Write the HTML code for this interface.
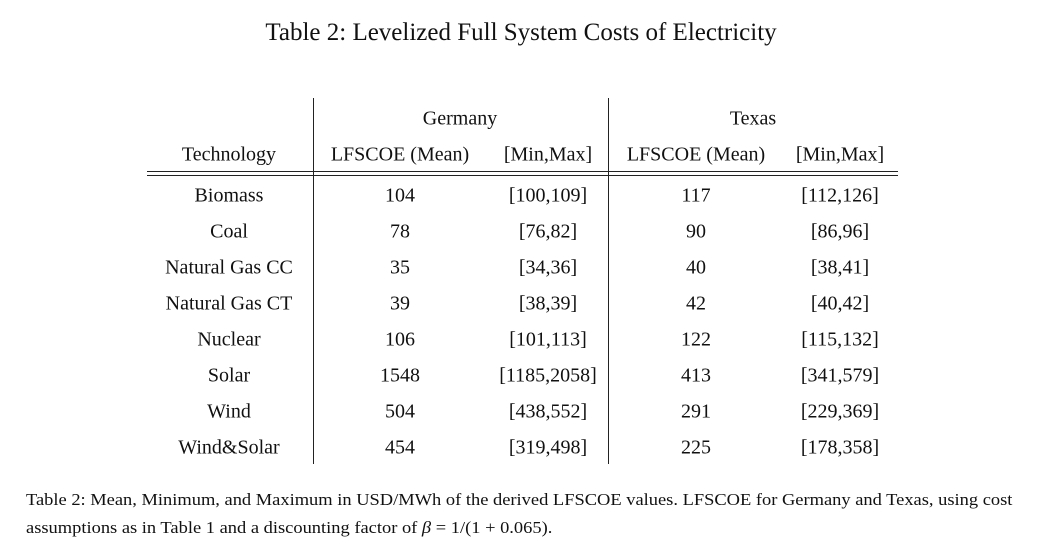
<!DOCTYPE html>
<html><head><meta charset="utf-8"><style>
body{margin:0;width:1040px;height:551px;background:#fff;font-family:"Liberation Serif",serif;color:#111;position:relative;overflow:hidden}
.t{position:absolute;white-space:nowrap;transform:translate(-50%,-50%);font-size:20px}
.l{position:absolute;background:#222}
.c{position:absolute;left:26px;font-size:16.5px;white-space:nowrap;transform-origin:0 50%;transform:scaleX(1.118)}
</style></head><body>
<div class="t" style="left:521px;top:33px;font-size:25px">Table 2: Levelized Full System Costs of Electricity</div>
<div class="l" style="left:313px;top:98px;width:1.3px;height:366px"></div>
<div class="l" style="left:608px;top:98px;width:1.3px;height:366px"></div>
<div class="l" style="left:147px;top:171px;width:751px;height:1.3px"></div>
<div class="l" style="left:147px;top:175px;width:751px;height:1.3px"></div>
<div class="t" style="left:460px;top:119px">Germany</div>
<div class="t" style="left:753px;top:119px">Texas</div>
<div class="t" style="left:229px;top:155px">Technology</div>
<div class="t" style="left:400px;top:155px">LFSCOE (Mean)</div>
<div class="t" style="left:548px;top:155px">[Min,Max]</div>
<div class="t" style="left:696px;top:155px">LFSCOE (Mean)</div>
<div class="t" style="left:840px;top:155px">[Min,Max]</div>

<div class="t" style="left:229px;top:196px">Biomass</div><div class="t" style="left:400px;top:196px">104</div><div class="t" style="left:548px;top:196px">[100,109]</div><div class="t" style="left:696px;top:196px">117</div><div class="t" style="left:840px;top:196px">[112,126]</div>
<div class="t" style="left:229px;top:232px">Coal</div><div class="t" style="left:400px;top:232px">78</div><div class="t" style="left:548px;top:232px">[76,82]</div><div class="t" style="left:696px;top:232px">90</div><div class="t" style="left:840px;top:232px">[86,96]</div>
<div class="t" style="left:229px;top:268px">Natural Gas CC</div><div class="t" style="left:400px;top:268px">35</div><div class="t" style="left:548px;top:268px">[34,36]</div><div class="t" style="left:696px;top:268px">40</div><div class="t" style="left:840px;top:268px">[38,41]</div>
<div class="t" style="left:229px;top:304px">Natural Gas CT</div><div class="t" style="left:400px;top:304px">39</div><div class="t" style="left:548px;top:304px">[38,39]</div><div class="t" style="left:696px;top:304px">42</div><div class="t" style="left:840px;top:304px">[40,42]</div>
<div class="t" style="left:229px;top:340px">Nuclear</div><div class="t" style="left:400px;top:340px">106</div><div class="t" style="left:548px;top:340px">[101,113]</div><div class="t" style="left:696px;top:340px">122</div><div class="t" style="left:840px;top:340px">[115,132]</div>
<div class="t" style="left:229px;top:376px">Solar</div><div class="t" style="left:400px;top:376px">1548</div><div class="t" style="left:548px;top:376px">[1185,2058]</div><div class="t" style="left:696px;top:376px">413</div><div class="t" style="left:840px;top:376px">[341,579]</div>
<div class="t" style="left:229px;top:412px">Wind</div><div class="t" style="left:400px;top:412px">504</div><div class="t" style="left:548px;top:412px">[438,552]</div><div class="t" style="left:696px;top:412px">291</div><div class="t" style="left:840px;top:412px">[229,369]</div>
<div class="t" style="left:229px;top:448px">Wind&amp;Solar</div><div class="t" style="left:400px;top:448px">454</div><div class="t" style="left:548px;top:448px">[319,498]</div><div class="t" style="left:696px;top:448px">225</div><div class="t" style="left:840px;top:448px">[178,358]</div>

<div class="c" style="top:490px">Table 2: Mean, Minimum, and Maximum in USD/MWh of the derived LFSCOE values. LFSCOE for Germany and Texas, using cost</div>
<div class="c" style="top:518px">assumptions as in Table 1 and a discounting factor of <i>β</i> = 1/(1 + 0.065).</div>
</body></html>
